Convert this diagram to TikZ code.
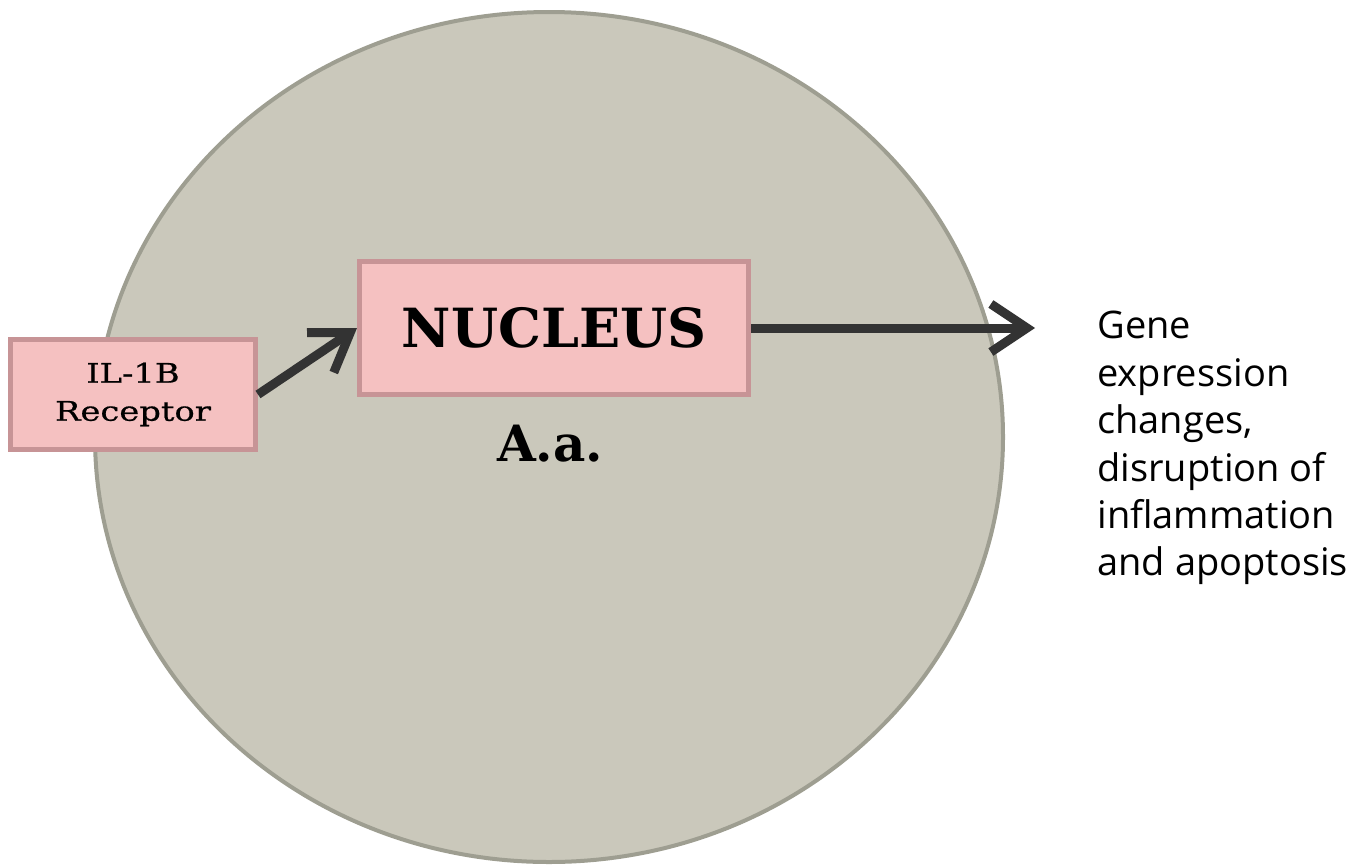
\documentclass[tikz,border=0pt]{standalone}
\usepackage{fontspec}
\setmainfont{DejaVu Serif}
\newfontfamily\receptorfont[FakeStretch=1.25,FakeBold=0.6]{DejaVu Serif}
\newfontfamily\effectfont{Open Sans}
\usetikzlibrary{positioning}
\usetikzlibrary{arrows.meta}
\definecolor{cellgrey}{RGB}{202,200,187}
\definecolor{cellrim}{RGB}{158,158,145}
\definecolor{boxpink}{RGB}{245,193,193}
\definecolor{boxrim}{RGB}{199,148,150}
\definecolor{arrowdark}{RGB}{51,51,51}

\begin{document}
\begin{tikzpicture}[x=0.5pt,y=-0.5pt,
  pinkbox/.style={draw=boxrim,fill=boxpink,line width=2.5pt,inner sep=0pt},
  signal/.style={draw=arrowdark,line width=4.5pt,-{Straight Barb[length=18pt,width=24pt]}}]
  \useasboundingbox (0,0) rectangle (1368,867);
  % cell
  \filldraw[fill=cellgrey,draw=cellrim,line width=2pt] (549,437) ellipse [x radius=227pt,y radius=212.5pt];
  \node (rec) [pinkbox,minimum width=122.5pt,minimum height=55pt,align=center,
    font=\receptorfont\fontsize{13.5}{19}\selectfont] at (133,394.5) {IL-1B\\Receptor};
  \node (nuc) [pinkbox,minimum width=194.5pt,minimum height=66.5pt,
    font=\fontsize{27}{30}\selectfont\bfseries] at (554,328) {NUCLEUS};
  \node (aa) [below=14pt of nuc,xshift=-2pt,inner sep=0pt,font=\fontsize{25}{27}\selectfont\bfseries] {A.a.};
  \coordinate (out) at (1035,328);
  \node (effect) [anchor=north west,inner sep=0pt,align=left,
    font=\effectfont\fontsize{19}{23.7}\selectfont] at (1097,311)
    {Gene\\expression\\changes,\\disruption of\\inflammation\\and apoptosis};
  \draw[signal] (rec.east) -- (nuc.west);
  \draw[signal] (nuc.east) -- (out);
\end{tikzpicture}
\end{document}
